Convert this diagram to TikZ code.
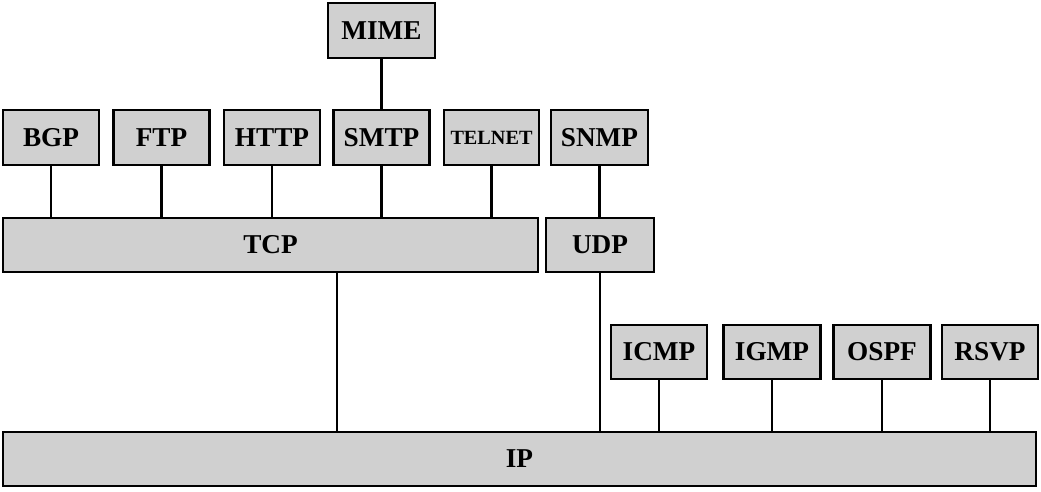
\documentclass[tikz,border=0pt]{standalone}
\usepackage{fontspec}
\setmainfont{Liberation Serif}
\definecolor{protogray}{RGB}{208,208,208}
\tikzset{
	proto/.style={draw,line width=1.2pt,fill=protogray,inner sep=0pt,minimum height=1.09cm,font=\fontsize{15.5}{18}\selectfont\bfseries},
	link/.style={line width=1.2pt}
}
\begin{document}
\begin{tikzpicture}[x=0.02cm,y=-0.02cm]
			\useasboundingbox (0,0) rectangle (1041,492);
			% application layer
			\node[proto,minimum width=2.14cm] (mime) at (381.5,30.5) {MIME};
			\node[proto,minimum width=1.92cm] (bgp) at (51,137.5) {BGP};
			\node[proto,minimum width=1.92cm] (ftp) at (161.5,137.5) {FTP};
			\node[proto,minimum width=1.92cm] (http) at (272,137.5) {HTTP};
			\node[proto,minimum width=1.92cm] (smtp) at (381.5,137.5) {SMTP};
			\node[proto,minimum width=1.90cm,font=\fontsize{11.5}{14}\selectfont\bfseries] (telnet) at (491.5,137.5) {TELNET};
			\node[proto,minimum width=1.94cm] (snmp) at (599.5,137.5) {SNMP};
			% transport layer
			\node[proto,minimum width=10.70cm] (tcp) at (270.5,245) {TCP};
			\node[proto,minimum width=2.16cm] (udp) at (600,245) {UDP};
			% routing and control
			\node[proto,minimum width=1.92cm] (icmp) at (659,352) {ICMP};
			\node[proto,minimum width=1.94cm] (igmp) at (772,352) {IGMP};
			\node[proto,minimum width=1.94cm] (ospf) at (882,352) {OSPF};
			\node[proto,minimum width=1.92cm] (rsvp) at (990,352) {RSVP};
			% network layer
			\node[proto,minimum width=20.66cm] (ip) at (519.5,459) {IP};
			\coordinate (tcpdown) at (337,272);
			
			\draw[link] (mime.south) -- (smtp.north);
			\draw[link] (bgp.south) -- (bgp.south |- tcp.north);
			\draw[link] (ftp.south) -- (ftp.south |- tcp.north);
			\draw[link] (http.south) -- (http.south |- tcp.north);
			\draw[link] (smtp.south) -- (smtp.south |- tcp.north);
			\draw[link] (telnet.south) -- (telnet.south |- tcp.north);
			\draw[link] (snmp.south) -- (snmp.south |- udp.north);
			\draw[link] (tcpdown |- tcp.south) -- (tcpdown |- ip.north);
			\draw[link] (udp.south) -- (udp.south |- ip.north);
			\draw[link] (icmp.south) -- (icmp.south |- ip.north);
			\draw[link] (igmp.south) -- (igmp.south |- ip.north);
			\draw[link] (ospf.south) -- (ospf.south |- ip.north);
			\draw[link] (rsvp.south) -- (rsvp.south |- ip.north);
\end{tikzpicture}
\end{document}
